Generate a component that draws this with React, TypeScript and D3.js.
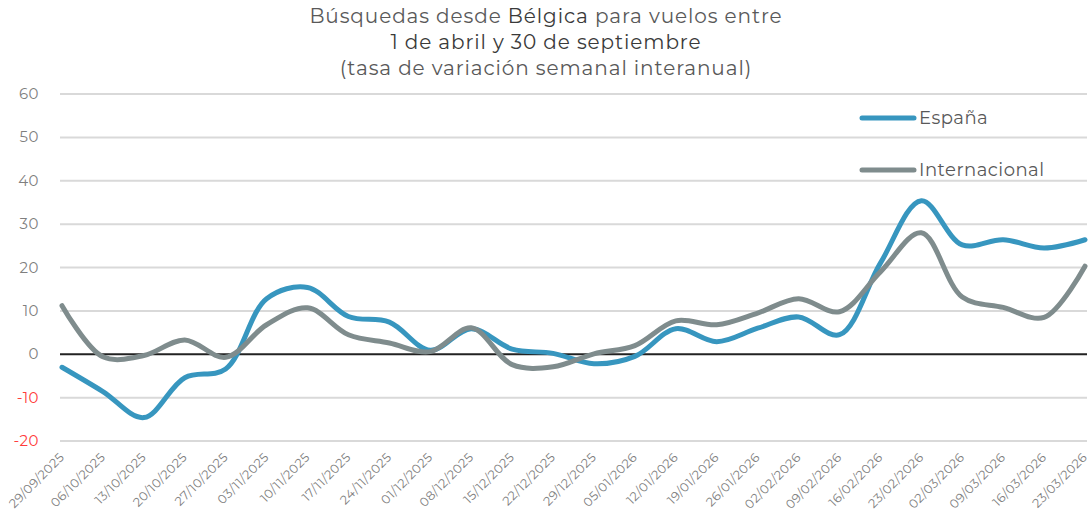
import { useEffect, useRef } from "react";
import * as d3 from "d3";

const weeks = [
  "29/09/2025", "06/10/2025", "13/10/2025", "20/10/2025", "27/10/2025", "03/11/2025",
  "10/11/2025", "17/11/2025", "24/11/2025", "01/12/2025", "08/12/2025", "15/12/2025",
  "22/12/2025", "29/12/2025", "05/01/2026", "12/01/2026", "19/01/2026", "26/01/2026",
  "02/02/2026", "09/02/2026", "16/02/2026", "23/02/2026", "02/03/2026", "09/03/2026",
  "16/03/2026", "23/03/2026",
];

const espana = [
  -3.0, -8.6, -14.6, -5.4, -3.4, 12.8, 15.4, 8.7, 7.4, 0.9, 5.9, 1.2, 0.2,
  -2.2, -0.5, 5.9, 2.9, 6.0, 8.6, 4.5, 21.0, 35.4, 25.2, 26.4, 24.5, 26.4,
];

const internacional = [
  11.2, -0.6, -0.3, 3.3, -0.7, 6.8, 10.7, 4.5, 2.6, 0.6, 6.1, -2.4, -2.9,
  0.1, 2.0, 7.7, 6.8, 9.5, 12.8, 9.8, 19.0, 28.0, 13.2, 10.8, 8.5, 20.3,
];

const yTicks = [-20, -10, 0, 10, 20, 30, 40, 50, 60];

const seriesNames = ["España", "Internacional"];
const seriesColors = ["#3796bf", "#7f8c8d"];

const FONT = "Montserrat, 'Open Sans', 'DejaVu Sans', sans-serif";

export default function App() {
  const svgRef = useRef<SVGSVGElement>(null);
  const width = 1089;
  const height = 512;

  useEffect(() => {
    if (!svgRef.current) return;
    const svg = d3.select(svgRef.current);
    svg.selectAll("*").remove();

    const margin = { left: 60, right: 4, top: 94, bottom: 71 };
    const x = d3
      .scalePoint<string>()
      .domain(weeks)
      .range([margin.left + 2, width - margin.right]);
    const y = d3
      .scaleLinear()
      .domain([-20, 60])
      .range([height - margin.bottom, margin.top]);

    // Title
    const title = svg
      .append("text")
      .attr("x", 546)
      .attr("text-anchor", "middle")
      .style("font-family", FONT)
      .style("font-size", "20px")
      .style("letter-spacing", "0.9px")
      .attr("fill", "#595959");
    const l1 = title.append("tspan").attr("x", 546).attr("y", 23);
    l1.append("tspan").text("Búsquedas desde ");
    l1.append("tspan").attr("fill", "#3a3a3a").text("Bélgica");
    l1.append("tspan").text(" para vuelos entre");
    title.append("tspan").attr("x", 546).attr("y", 49).attr("fill", "#3a3a3a").text("1 de abril y 30 de septiembre");
    title.append("tspan").attr("x", 546).attr("y", 75).text("(tasa de variación semanal interanual)");

    // Gridlines
    svg
      .append("g")
      .selectAll("line")
      .data(yTicks.filter((t) => t !== 0))
      .enter()
      .append("line")
      .attr("x1", margin.left)
      .attr("x2", width - 2)
      .attr("y1", (d) => y(d))
      .attr("y2", (d) => y(d))
      .attr("stroke", "#d9d9d9")
      .attr("stroke-width", 2);

    // Y labels
    svg
      .append("g")
      .selectAll("text")
      .data(yTicks)
      .enter()
      .append("text")
      .attr("x", 39)
      .attr("y", (d) => y(d) + 5)
      .attr("text-anchor", "end")
      .style("font-family", FONT)
      .style("font-size", "15px")
      .style("letter-spacing", "0.5px")
      .attr("fill", (d) => (d < 0 ? "#ff3b3b" : "#7f7f7f"))
      .text((d) => d);

    // X labels
    svg
      .append("g")
      .selectAll("text")
      .data(weeks)
      .enter()
      .append("text")
      .attr("transform", (d) => `translate(${(x(d) || 0) + 3},${height - margin.bottom + 17}) rotate(-45)`)
      .attr("text-anchor", "end")
      .style("font-family", FONT)
      .style("font-size", "12.5px")
      .style("letter-spacing", "0.4px")
      .attr("fill", "#7f7f7f")
      .text((d) => d);

    // Lines
    const line = d3
      .line<number>()
      .x((_d, i) => x(weeks[i]) || 0)
      .y((d) => y(d))
      .curve(d3.curveCatmullRom.alpha(0.5));

    [espana, internacional].forEach((vals, i) => {
      svg
        .append("path")
        .datum(vals)
        .attr("d", line)
        .attr("fill", "none")
        .attr("stroke", seriesColors[i])
        .attr("stroke-width", 5)
        .attr("stroke-linecap", "round")
        .attr("stroke-linejoin", "round");
    });

    // Zero line, under the series
    svg
      .insert("line", "path")
      .attr("x1", margin.left)
      .attr("x2", width - 2)
      .attr("y1", y(0))
      .attr("y2", y(0))
      .attr("stroke", "#222")
      .attr("stroke-width", 2);

    // Legend
    const legend = svg
      .append("g")
      .selectAll("g")
      .data(seriesNames)
      .enter()
      .append("g")
      .attr("transform", (_d, i) => `translate(862,${118 + i * 52})`);
    legend
      .append("line")
      .attr("x1", 0)
      .attr("x2", 52)
      .attr("stroke", (_d, i) => seriesColors[i])
      .attr("stroke-width", 5)
      .attr("stroke-linecap", "round");
    legend
      .append("text")
      .attr("x", 57)
      .attr("y", 6)
      .style("font-family", FONT)
      .style("font-size", "18px")
      .style("letter-spacing", "0.5px")
      .attr("fill", "#595959")
      .text((d) => d);
  }, []);

  return (
    <svg
      ref={svgRef}
      width={width}
      height={height}
      style={{ position: "absolute", left: 0, top: 0, background: "#fff" }}
    />
  );
}
